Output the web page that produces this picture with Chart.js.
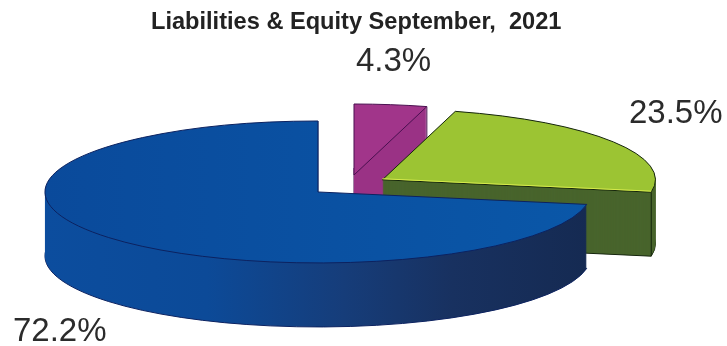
<!DOCTYPE html>
<html>
<head>
<meta charset="utf-8">
<title>Liabilities &amp; Equity</title>
<script src="https://cdn.jsdelivr.net/npm/chart.js@4/dist/chart.umd.min.js"></script>
<style>
  html, body { margin: 0; padding: 0; background: #fff; }
  canvas { display: block; }
</style>
</head>
<body>
<canvas id="chartPie" width="727" height="346"></canvas>
<script>
// share of each slice, clockwise from twelve o'clock
const sliceValues = [4.3, 23.5, 72.2];
const chartTitle = 'Liabilities & Equity September,  2021';

const topColors = ['#a1358a', '#9cc433', null];
const sideColors = ['#9a3285', '#48642c', null];
const edgeColors = ['#4a1050', '#14240c', '#0c2260'];
const shineColors = [null, '#d6ea4c', null];
// where each percentage is written (left, baseline)
const labelSpots = [[356, 71], [629, 123], [13, 341]];

const pieX = 348.6, pieY = 185.3;
const pieRadius = 273;
const squash = 0.26;
const explode = 40;
const depth = 64;

// arc.draw under a squashed transform, pen kept round
function drawSlice(ctx, arc, x, y, style) {
    const saved = arc.options;
    arc.options = Object.assign({}, saved, style);
    ctx.save();
    ctx.translate(x, y);
    ctx.scale(1, squash);
    ctx.translate(-arc.x, -arc.y);
    ctx.stroke = function () {
        const m = ctx.getTransform();
        ctx.setTransform(1, 0, 0, 1, 0, 0);
        CanvasRenderingContext2D.prototype.stroke.call(ctx);
        ctx.setTransform(m);
    };
    arc.draw(ctx);
    delete ctx.stroke;
    ctx.restore();
    arc.options = saved;
}

// left-to-right shading for the big slice, stops in page pixels
function sweep(ctx, arc, x, stops) {
    const toFlat = px => px - x + arc.x;
    const g = ctx.createLinearGradient(toFlat(44), 0, toFlat(588), 0);
    stops.forEach(s => g.addColorStop(s[0], s[1]));
    return g;
}

function line(ctx, color, x1, y1, x2, y2) {
    ctx.save();
    ctx.strokeStyle = color;
    ctx.lineWidth = 1;
    ctx.beginPath();
    ctx.moveTo(x1, y1);
    ctx.lineTo(x2, y2);
    ctx.stroke();
    ctx.restore();
}

const pie3d = {
    id: 'pie3d',
    beforeDatasetDraw(chart) {
        const ctx = chart.ctx;
        chart.getDatasetMeta(0).data.forEach((arc, i) => {
            const mid = (arc.startAngle + arc.endAngle) / 2;
            const x = pieX + explode * Math.cos(mid);
            const y = pieY + explode * Math.sin(mid) * squash;
            const side = sideColors[i] || sweep(ctx, arc, x, [
                [0, '#0c4d9e'], [0.3, '#0c4a98'], [0.55, '#163d7a'], [0.75, '#183160'], [1, '#152a52']
            ]);
            const top = topColors[i] || sweep(ctx, arc, x, [[0, '#0a4a9b'], [1, '#0a57a8']]);

            drawSlice(ctx, arc, x, y + depth, {backgroundColor: side, borderColor: edgeColors[i], borderWidth: 1});
            for (let d = depth - 1; d > 0; d--) {
                drawSlice(ctx, arc, x, y + d, {backgroundColor: side, borderWidth: 0});
            }

            // upright corner where the side wall turns
            const tipX = x + pieRadius * Math.cos(arc.endAngle);
            const tipY = y + pieRadius * Math.sin(arc.endAngle) * squash;
            line(ctx, edgeColors[i], tipX, tipY, tipX, tipY + depth);

            drawSlice(ctx, arc, x, y, {backgroundColor: top, borderColor: edgeColors[i], borderWidth: 1});

            if (shineColors[i]) {
                line(ctx, shineColors[i], x, y - 1, tipX, tipY - 1);
            }
        });
        return false;
    },
    afterDraw(chart) {
        const ctx = chart.ctx;
        ctx.save();
        ctx.font = '33px "Liberation Sans"';
        ctx.fillStyle = '#2b2b2b';
        ctx.textBaseline = 'alphabetic';
        sliceValues.forEach((v, i) => {
            ctx.fillText(v.toFixed(1) + '%', labelSpots[i][0], labelSpots[i][1]);
        });
        ctx.restore();
    }
};

new Chart(document.getElementById('chartPie'), {
    type: 'pie',
    data: {
        labels: sliceValues.map(v => v.toFixed(1) + '%'),
        datasets: [{
            data: sliceValues,
            backgroundColor: '#0a4f9f',
            borderWidth: 1,
            radius: pieRadius,
            clip: false
        }]
    },
    options: {
        responsive: false,
        animation: false,
        layout: {padding: {left: 151}},
        plugins: {
            legend: {display: false},
            tooltip: {enabled: false},
            title: {
                display: true,
                text: chartTitle,
                align: 'start',
                color: '#222',
                font: {family: '"Liberation Sans"', size: 23.6, weight: 'bold'},
                padding: {top: 8, bottom: 4}
            }
        }
    },
    plugins: [pie3d]
});
</script>
</body>
</html>
